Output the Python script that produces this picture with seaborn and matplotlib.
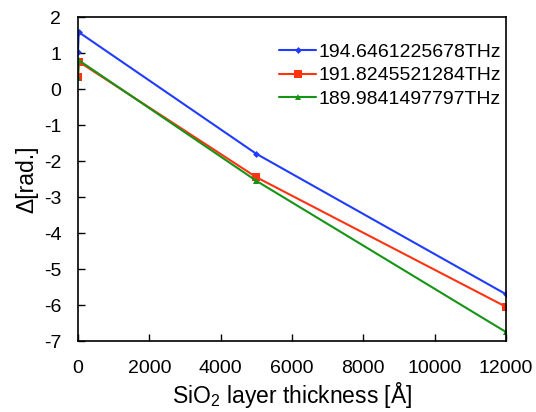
import matplotlib
matplotlib.use("Agg")
import matplotlib.pyplot as plt
import seaborn as sns
import pandas as pd

# thickness of the SiO2 layer [Å]
thickness = [0, 20, 5000, 12000]

# phase difference per frequency [rad.]
labels = ['194.6461225678THz', '191.8245521284THz', '189.9841497797THz']
delta_194 = [1.04, 1.58, -1.80, -5.70]
delta_191 = [0.34, 0.76, -2.45, -6.05]
delta_189 = [0.30, 0.80, -2.55, -6.75]

colors = ['#1f3cff', '#ff3311', '#159415']
markers = ['D', 's', '^']
msizes = [3.5, 6, 5]

sns.set_style("white")
plt.rcParams['font.family'] = ['Liberation Sans', 'DejaVu Sans']
plt.rcParams['mathtext.fontset'] = 'custom'
plt.rcParams['mathtext.rm'] = 'Liberation Sans'
plt.rcParams['axes.unicode_minus'] = False
plt.rcParams['text.color'] = 'black'
plt.rcParams['axes.labelcolor'] = 'black'
plt.rcParams['xtick.color'] = 'black'
plt.rcParams['ytick.color'] = 'black'

fig = plt.figure(figsize=(5.36, 4.12), dpi=100)
ax = fig.add_axes([0.1455, 0.1723, 0.7985, 0.7864])

for lab, vals, c, m, ms in zip(labels, [delta_194, delta_191, delta_189], colors, markers, msizes):
    df = pd.DataFrame({'x': thickness, 'y': vals})
    sns.lineplot(data=df, x='x', y='y', ax=ax, color=c, marker=m, markersize=ms,
                 markeredgewidth=0, linewidth=1.5, label=lab)

ax.set_xlim(0, 12000)
ax.set_ylim(-7, 2)
ax.set_xticks(range(0, 12001, 2000))
ax.set_yticks(range(-7, 3))
ax.tick_params(axis='both', direction='in', labelsize=14, length=5, width=1,
               left=True, bottom=True)
ax.tick_params(axis='x', pad=14)
ax.tick_params(axis='y', pad=12)
for s in ax.spines.values():
    s.set_color('black')
    s.set_linewidth(1.2)

ax.set_xlabel('SiO$_2$ layer thickness [Å]', fontsize=16.5, labelpad=2)
ax.set_ylabel('Δ[rad.]', fontsize=16.5, labelpad=4)

ax.legend(loc='upper right', bbox_to_anchor=(1.015, 0.955), frameon=False, fontsize=14,
          handlelength=1.9, handletextpad=0.1, labelspacing=0.3, borderaxespad=0.2)

plt.savefig('out.png', dpi=100)
